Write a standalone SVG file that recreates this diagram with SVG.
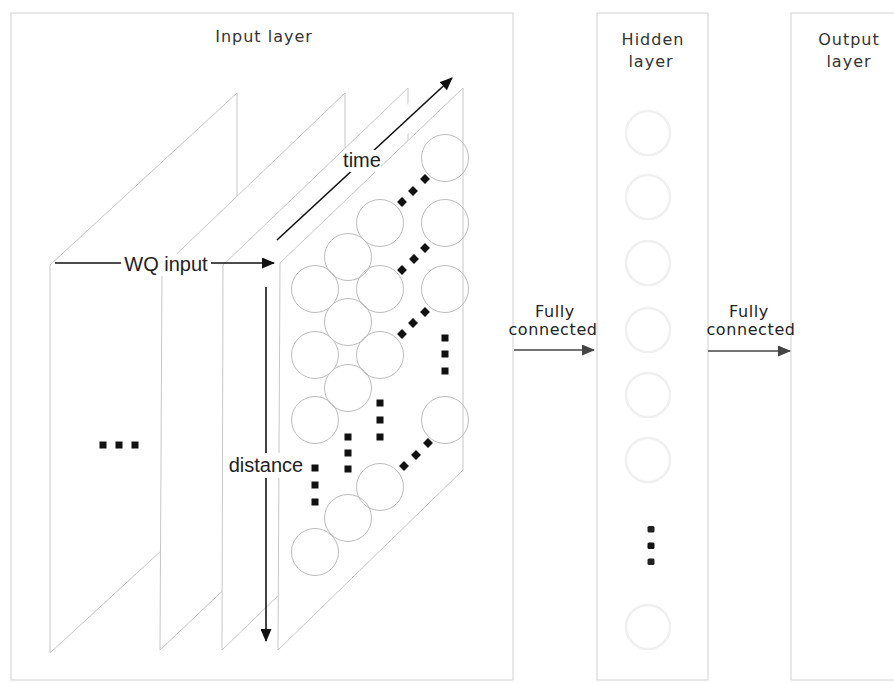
<svg xmlns="http://www.w3.org/2000/svg" width="894" height="683" viewBox="0 0 894 683">
<style>
.box{fill:none;stroke:#d8d8d8;stroke-width:1.2}
.plane{fill:#fff;stroke:#c6c6c6;stroke-width:1}
.cell{fill:none;stroke:#bcbcbc;stroke-width:1}
.ghost{fill:none;stroke:#f0f0f0;stroke-width:2.5}
.sq{fill:#111}
.title{font-family:"DejaVu Sans",sans-serif;font-size:16px;letter-spacing:1px;fill:#333;text-anchor:middle}
.fc{font-family:"DejaVu Sans",sans-serif;font-size:16px;letter-spacing:0.6px;fill:#222;text-anchor:middle}
.ax{font-family:"Liberation Sans",Arial,sans-serif;font-size:20px;fill:#222;text-anchor:middle}
.arr{stroke:#111;stroke-width:1.6;fill:none;marker-end:url(#ah)}
.arr2{stroke:#444;stroke-width:1.5;fill:none;marker-end:url(#ah2)}
.bg{fill:#fff}
</style>
<defs>
<marker id="ah" markerUnits="userSpaceOnUse" markerWidth="13" markerHeight="11" refX="12" refY="5.5" orient="auto"><path d="M0,0 L13,5.5 L0,11 z" fill="#111"/></marker>
<marker id="ah2" markerUnits="userSpaceOnUse" markerWidth="13" markerHeight="11" refX="12" refY="5.5" orient="auto"><path d="M0,0 L13,5.5 L0,11 z" fill="#444"/></marker>
<rect id="d" x="-3.5" y="-3.5" width="7" height="7"/>
</defs>
<rect width="894" height="683" fill="#fff"/>

<g id="input-layer">
<rect class="box" x="11" y="13" width="502" height="667"/>
<text class="title" x="264" y="42">Input layer</text>
<g id="planes">
<polygon class="plane" points="50,265 237,93 237,481 50,653"/>
<polygon class="plane" points="162,268 345,93 345,475 160,650"/>
<polygon class="plane" points="223,265 408,88 408,470 222,650"/>
<polygon class="plane" points="280,263 463,88 463,470 278,650"/>
</g>
<g id="cells">
<circle class="cell" cx="445" cy="158" r="23.5"/>
<circle class="cell" cx="380" cy="223" r="23.5"/>
<circle class="cell" cx="445" cy="223" r="23.5"/>
<circle class="cell" cx="348" cy="257" r="23.5"/>
<circle class="cell" cx="315" cy="289" r="23.5"/>
<circle class="cell" cx="380" cy="289" r="23.5"/>
<circle class="cell" cx="445" cy="289" r="23.5"/>
<circle class="cell" cx="348" cy="322" r="23.5"/>
<circle class="cell" cx="315" cy="355" r="23.5"/>
<circle class="cell" cx="380" cy="355" r="23.5"/>
<circle class="cell" cx="348" cy="388" r="23.5"/>
<circle class="cell" cx="315" cy="420" r="23.5"/>
<circle class="cell" cx="445" cy="420" r="23.5"/>
<circle class="cell" cx="380" cy="487" r="23.5"/>
<circle class="cell" cx="348" cy="518" r="23.5"/>
<circle class="cell" cx="315" cy="552" r="23.5"/>
</g>
<g id="ellipsis-dots" class="sq">
<use href="#d" x="103" y="445"/><use href="#d" x="119" y="445"/><use href="#d" x="135" y="445"/>
<use href="#d" transform="translate(425,179) rotate(45)"/><use href="#d" transform="translate(413,191) rotate(45)"/><use href="#d" transform="translate(402,202) rotate(45)"/>
<use href="#d" transform="translate(425,248) rotate(45)"/><use href="#d" transform="translate(414,259) rotate(45)"/><use href="#d" transform="translate(402,270) rotate(45)"/>
<use href="#d" transform="translate(425,312) rotate(45)"/><use href="#d" transform="translate(413,323) rotate(45)"/><use href="#d" transform="translate(402,334) rotate(45)"/>
<use href="#d" transform="translate(428,443) rotate(45)"/><use href="#d" transform="translate(416,455) rotate(45)"/><use href="#d" transform="translate(404,466) rotate(45)"/>
<use href="#d" x="445" y="338"/><use href="#d" x="445" y="354"/><use href="#d" x="445" y="371"/>
<use href="#d" x="380" y="403"/><use href="#d" x="380" y="420"/><use href="#d" x="380" y="437"/>
<use href="#d" x="348" y="437"/><use href="#d" x="348" y="453"/><use href="#d" x="348" y="469"/>
<use href="#d" x="315" y="468"/><use href="#d" x="315" y="485"/><use href="#d" x="315" y="502"/>
</g>
</g>

<g id="hidden-layer">
<rect class="box" x="597" y="13" width="111" height="667"/>
<text class="title" x="653" y="45">Hidden</text>
<text class="title" x="651" y="67">layer</text>
<circle class="ghost" cx="648" cy="133" r="22"/>
<circle class="ghost" cx="648" cy="197" r="22"/>
<circle class="ghost" cx="648" cy="263" r="22"/>
<circle class="ghost" cx="648" cy="330" r="22"/>
<circle class="ghost" cx="648" cy="395" r="22"/>
<circle class="ghost" cx="648" cy="460" r="22"/>
<circle class="ghost" cx="648" cy="627" r="22"/>
<rect x="647.5" y="526" width="7" height="6.5" rx="1.5" fill="#222"/>
<rect x="647.5" y="542.5" width="7" height="6.5" rx="1.5" fill="#111"/>
<rect x="647.5" y="558.5" width="7" height="6.5" rx="1.5" fill="#222"/>
</g>

<g id="output-layer">
<rect class="box" x="791" y="13" width="110" height="667"/>
<text class="title" x="849" y="45">Output</text>
<text class="title" x="849" y="67">layer</text>
</g>

<g id="connectors">
<line x1="277" y1="240" x2="452" y2="78" stroke="#fff" stroke-width="22"/>
<line class="arr" x1="277" y1="240" x2="452" y2="78"/>
<rect class="bg" x="343" y="150" width="38" height="22"/>
<text class="ax" x="362" y="167">time</text>
<line class="arr" x1="55" y1="263" x2="274" y2="263"/>
<rect class="bg" x="121" y="254" width="90" height="22"/>
<text class="ax" x="166" y="271">WQ input</text>
<line class="arr" x1="266" y1="287" x2="266" y2="641"/>
<rect class="bg" x="227" y="453" width="79" height="25"/>
<text class="ax" x="266" y="472">distance</text>
<line class="arr2" x1="514" y1="350" x2="594" y2="350"/>
<text class="fc" x="555" y="317">Fully</text>
<text class="fc" x="553" y="335">connected</text>
<line class="arr2" x1="708" y1="351" x2="790" y2="351"/>
<text class="fc" x="749" y="317">Fully</text>
<text class="fc" x="751" y="335">connected</text>
</g>
</svg>
